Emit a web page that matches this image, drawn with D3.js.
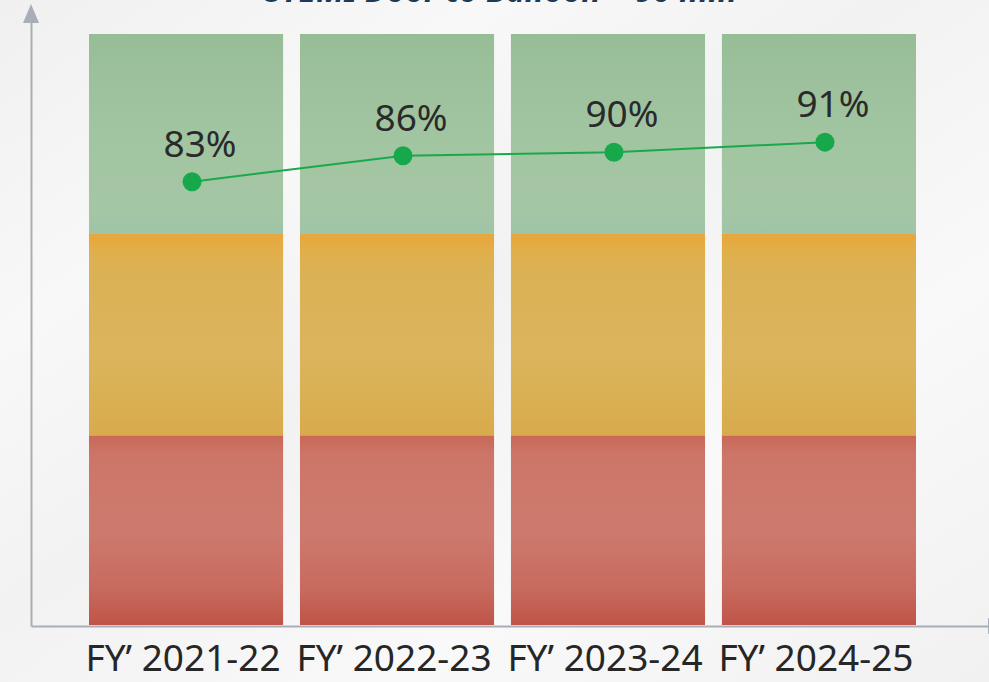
<!DOCTYPE html>
<html>
<head>
<meta charset="utf-8">
<script src="https://cdn.jsdelivr.net/npm/d3@7"></script>
<style>
  html, body { margin: 0; padding: 0; background: #f4f4f4; overflow: hidden; }
  text { font-family: "Noto Sans", "Open Sans", sans-serif; }
</style>
</head>
<body>
<div id="chart"></div>
<script>
// chart data
const title = "STEMI Door to Balloon < 90 min";
const years = ["FY\u2019 2021-22", "FY\u2019 2022-23", "FY\u2019 2023-24", "FY\u2019 2024-25"];
const compliance = [83, 86, 90, 91];
// height at which each marker sits on the banded scale
const markerLevel = [75.0, 79.4, 80.0, 81.7];
// colour bands behind each bar (bottom to top, percent of the axis)
const bandNames = ["red", "yellow", "green"];
const bandFrom = [0, 32.1, 66.3];
const bandTo = [32.1, 66.3, 100];

let svgWidth = 989;
let svgHeight = 682;

let margin = { top: 34, right: 73, bottom: 57, left: 89 };
let height = svgHeight - margin.top - margin.bottom;

let svg = d3.select("#chart")
  .append("svg")
  .attr("width", svgWidth)
  .attr("height", svgHeight);

let defs = svg.append("defs");

// soft background with light diagonal streaks
let bg = defs.append("linearGradient")
  .attr("id", "bg")
  .attr("x1", "0").attr("y1", "0").attr("x2", "1").attr("y2", "1");
[["0", "#f0f0f0"], ["0.25", "#f8f8f8"], ["0.45", "#f2f2f2"], ["0.7", "#f9f9f9"], ["1", "#f1f1f1"]]
  .forEach(s => bg.append("stop").attr("offset", s[0]).attr("stop-color", s[1]));

svg.append("rect")
  .attr("width", svgWidth)
  .attr("height", svgHeight)
  .attr("fill", "url(#bg)");

// gradients for the three colour bands
let bandStops = {
  green: [["0", "#97bd97"], ["0.5", "#a2c5a1"], ["0.9", "#a4c6a4"], ["1", "#9ec4a8"]],
  yellow: [["0", "#e8a63a"], ["0.08", "#e2ae48"], ["0.15", "#dcb154"], ["0.6", "#dbb45d"], ["0.85", "#d9af52"], ["1", "#d8aa4c"]],
  red: [["0", "#c96758"], ["0.1", "#cc7667"], ["0.5", "#cd7a6e"], ["0.8", "#c86b5e"], ["1", "#bf5449"]]
};
bandNames.forEach(name => {
  let g = defs.append("linearGradient")
    .attr("id", "band-" + name)
    .attr("x1", "0").attr("y1", "0").attr("x2", "0").attr("y2", "1");
  bandStops[name].forEach(s => g.append("stop").attr("offset", s[0]).attr("stop-color", s[1]));
});

// scales
let xScale = d3.scaleBand()
  .domain(years)
  .range([margin.left, svgWidth - margin.right])
  .paddingInner(0.08)
  .paddingOuter(0);

let yScale = d3.scaleLinear()
  .domain([0, 100])
  .range([margin.top + height, margin.top]);

// title, cropped at the top edge as in the source image
svg.append("text")
  .attr("x", 501)
  .attr("y", 2)
  .attr("text-anchor", "middle")
  .attr("font-size", "32px")
  .attr("font-weight", "bold")
  .attr("font-style", "italic")
  .attr("fill", "#1d3a56")
  .text(title);

// bars made of colour bands
let bars = svg.selectAll(".bar")
  .data(years)
  .enter()
  .append("g")
  .attr("class", "bar");

bandNames.forEach((name, i) => {
  bars.append("rect")
    .attr("x", d => xScale(d))
    .attr("width", xScale.bandwidth())
    .attr("y", yScale(bandTo[i]))
    .attr("height", yScale(bandFrom[i]) - yScale(bandTo[i]))
    .attr("fill", "url(#band-" + name + ")");
});

// axes with arrow heads
let axisColor = "#a7aeb8";
let axisX = 31;
let axisY = yScale(0) + 1;

let leftAxis = d3.axisLeft(d3.scaleLinear().range([axisY, 14])).ticks(0).tickSizeOuter(0);
svg.append("g")
  .attr("transform", `translate(${axisX}, 0)`)
  .call(leftAxis)
  .select(".domain")
  .attr("stroke", axisColor)
  .attr("stroke-width", 2);

let bottomAxis = d3.axisBottom(d3.scaleLinear().range([axisX, svgWidth])).ticks(0).tickSizeOuter(0);
svg.append("g")
  .attr("transform", `translate(0, ${axisY})`)
  .call(bottomAxis)
  .select(".domain")
  .attr("stroke", axisColor)
  .attr("stroke-width", 2);

svg.append("path")
  .attr("d", `M${axisX},4 L${axisX - 8},23 L${axisX + 8},23 Z`)
  .attr("fill", axisColor);

svg.append("path")
  .attr("d", `M${svgWidth + 18},${axisY} L${svgWidth - 1},${axisY - 8} L${svgWidth - 1},${axisY + 8} Z`)
  .attr("fill", axisColor);

// category labels
svg.selectAll(".year-label")
  .data(years)
  .enter()
  .append("text")
  .attr("class", "year-label")
  .attr("x", d => xScale(d) + xScale.bandwidth() / 2 - 3)
  .attr("y", 671)
  .attr("text-anchor", "middle")
  .attr("font-size", "37px")
  .attr("fill", "#262626")
  .text(d => d);

// compliance trend line
let pointX = (d, i) => xScale(years[i]) + xScale.bandwidth() / 2 + 6;
let pointY = (d, i) => yScale(markerLevel[i]);

let line = d3.line()
  .x(pointX)
  .y(pointY);

svg.append("path")
  .datum(compliance)
  .attr("d", line)
  .attr("fill", "none")
  .attr("stroke", "#1aa84c")
  .attr("stroke-width", 2);

svg.selectAll(".point")
  .data(compliance)
  .enter()
  .append("circle")
  .attr("class", "point")
  .attr("cx", pointX)
  .attr("cy", pointY)
  .attr("r", 9.5)
  .attr("fill", "#17a84b");

svg.selectAll(".value-label")
  .data(compliance)
  .enter()
  .append("text")
  .attr("class", "value-label")
  .attr("x", (d, i) => pointX(d, i) + 8)
  .attr("y", (d, i) => pointY(d, i) - 25)
  .attr("text-anchor", "middle")
  .attr("font-size", "37px")
  .attr("fill", "#2a2a2a")
  .text(d => d + "%");
</script>
</body>
</html>
